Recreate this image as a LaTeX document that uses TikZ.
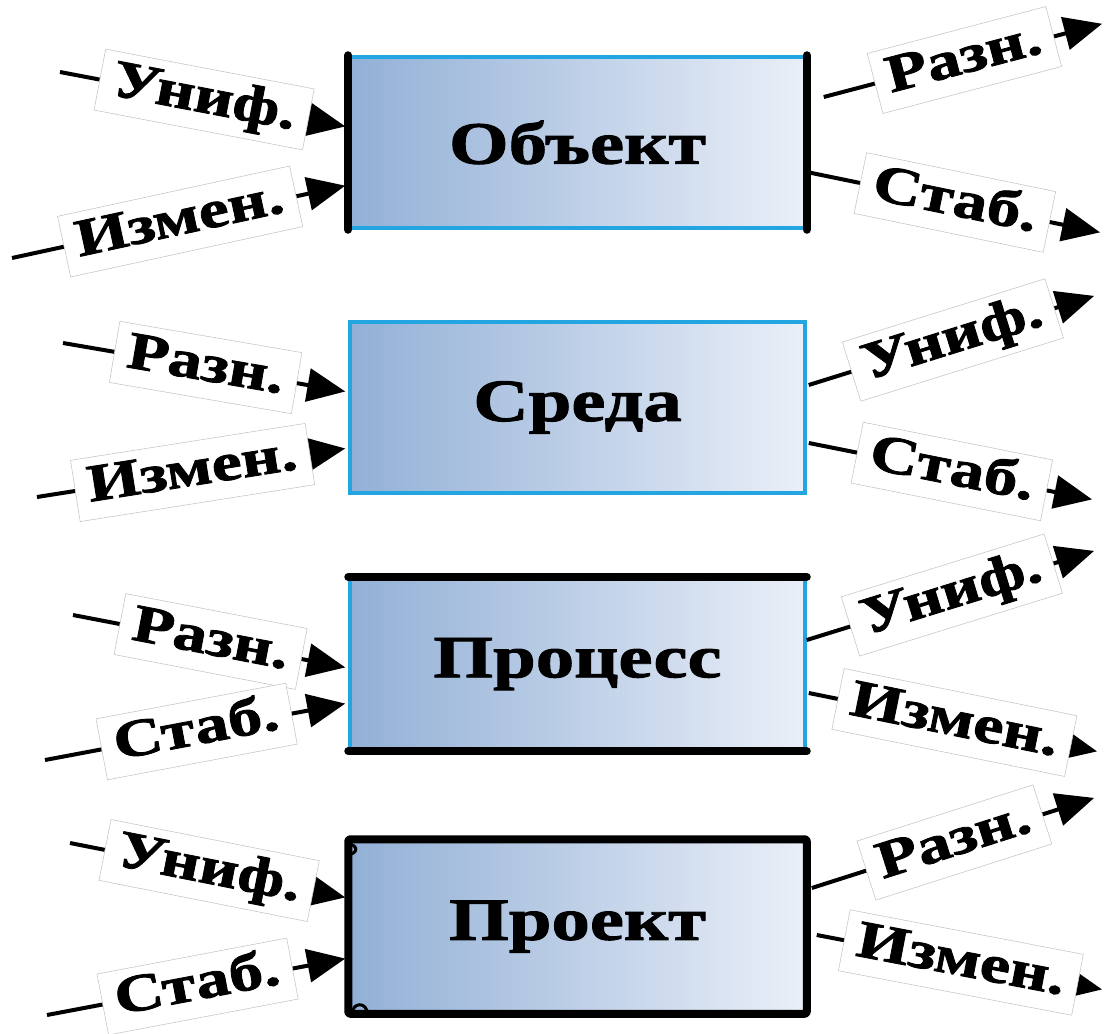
\documentclass[tikz,border=0pt]{standalone}
\usepackage{fontspec}
\newfontfamily\heavyserif{Liberation Serif}[FakeStretch=1.28, FakeBold=1.6]
\usetikzlibrary{arrows.meta}
\definecolor{edgeblue}{RGB}{35,165,225}
\definecolor{shadeleft}{RGB}{146,176,214}
\definecolor{shaderight}{RGB}{234,239,248}
\definecolor{tagline}{RGB}{200,200,200}

\begin{document}
\begin{tikzpicture}[x=1pt, y=-1pt,
    block/.style = {draw=edgeblue, line width=3.5pt, left color=shadeleft, right color=shaderight,
        minimum width=455pt, minimum height=171pt, inner sep=0pt,
        font=\heavyserif\bfseries\fontsize{60}{62}\selectfont},
    tag/.style = {draw=tagline, line width=0.6pt, fill=white, sloped, inner xsep=13pt, inner ysep=6pt,
        text height=38pt, text depth=12pt, font=\heavyserif\bfseries\fontsize{53}{55}\selectfont},
    flow/.style = {line width=4pt, shorten >=3pt, -{Triangle[length=38pt, width=33pt]}},
    rim/.style = {line width=8pt, line cap=round, line join=round}]
                \useasboundingbox (0,0) rectangle (1105,1033);

                \node[block] at (577.5, 142.5) (obj) {Объект};
                \node[block] at (577.5, 407.5) (env) {Среда};
                \node[block] at (577.5, 664) (proc) {Процесс};
                \node[block] at (577.5, 926.5) (proj) {Проект};

                \draw[rim] (obj.north west) -- (obj.south west);
                \draw[rim] (obj.north east) -- (obj.south east);
                \draw[rim] (proc.north west) -- (proc.north east);
                \draw[rim] (proc.south west) -- (proc.south east);
                \draw[rim, rounded corners=2pt] (proj.north west) rectangle (proj.south east);
                \draw[line width=3pt] ([yshift=-5pt]proj.north west) .. controls +(10pt,0) and +(10pt,0) .. ([yshift=-15pt]proj.north west);
                \draw[line width=3pt] ([xshift=4pt]proj.south west) .. controls +(0,12pt) and +(0,12pt) .. ([xshift=19pt]proj.south west);

                \coordinate (obj-a) at (60, 72);
                \coordinate (obj-b) at (12, 258);
                \coordinate (obj-c) at (1105, 23);
                \coordinate (obj-d) at (1103, 233);
                \coordinate (env-a) at (63, 343);
                \coordinate (env-b) at (37, 497);
                \coordinate (env-c) at (1097, 295);
                \coordinate (env-d) at (1095, 500);
                \coordinate (proc-a) at (73, 615);
                \coordinate (proc-b) at (45, 760);
                \coordinate (proc-c) at (1097, 550);
                \coordinate (proc-d) at (1100, 752);
                \coordinate (proj-a) at (70, 843);
                \coordinate (proj-b) at (47, 1015);
                \coordinate (proj-c) at (1097, 797);
                \coordinate (proj-d) at (1105, 990);

                \draw[flow] (obj-a) -- node[tag] {Униф.} ([yshift=15.5pt]obj.west);
                \draw[flow] (obj-b) -- node[tag] {Измен.} ([yshift=-42.5pt]obj.west);
                \draw[flow] ([xshift=17pt, yshift=45.5pt]obj.east) -- node[tag] {Разн.} (obj-c);
                \draw[flow] ([yshift=-29.5pt]obj.east) -- node[tag] {Стаб.} (obj-d);

                \draw[flow] (env-a) -- node[tag] {Разн.} ([yshift=15.5pt]env.west);
                \draw[flow] (env-b) -- node[tag] {Измен.} ([yshift=-40.5pt]env.west);
                \draw[flow] ([xshift=2pt, yshift=22.5pt]env.east) -- node[tag] {Униф.} (env-c);
                \draw[flow] ([xshift=2pt, yshift=-35.5pt]env.east) -- node[tag] {Стаб.} (env-d);

                \draw[flow] (proc-a) -- node[tag] {Разн.} ([yshift=-4pt]proc.west);
                \draw[flow] (proc-b) -- node[tag] {Стаб.} ([yshift=-39pt]proc.west);
                \draw[flow] ([yshift=24pt]proc.east) -- node[tag] {Униф.} (proc-c);
                \draw[flow] ([xshift=2pt, yshift=-29pt]proc.east) -- node[tag] {Измен.} (proc-d);

                \draw[flow] (proj-a) -- node[tag] {Униф.} ([yshift=28.5pt]proj.west);
                \draw[flow] (proj-b) -- node[tag] {Стаб.} ([yshift=-31.5pt]proj.west);
                \draw[flow] ([xshift=5pt, yshift=38.5pt]proj.east) -- node[tag] {Разн.} (proj-c);
                \draw[flow] ([xshift=10pt, yshift=-8.5pt]proj.east) -- node[tag] {Измен.} (proj-d);
            \end{tikzpicture}
\end{document}
